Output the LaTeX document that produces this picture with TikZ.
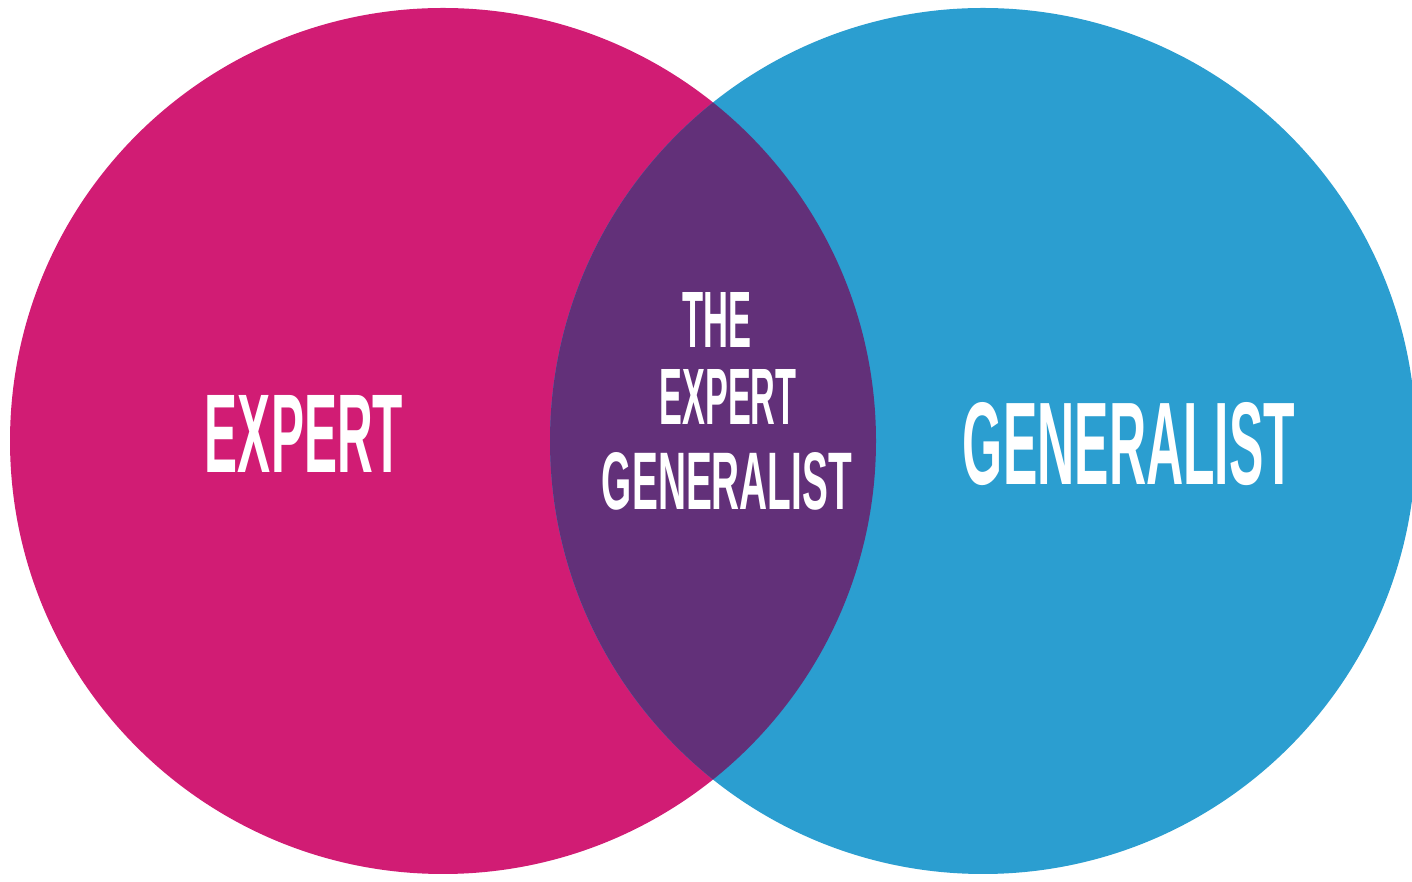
\documentclass[tikz,border=0pt]{standalone}
\usepackage{fontspec}
\setmainfont{Liberation Sans}
\usepackage{graphicx}
\definecolor{expertc}{HTML}{D11C74}
\definecolor{generalc}{HTML}{2B9ED0}
\definecolor{overlapc}{HTML}{623079}
\newcommand{\capword}[3]{\resizebox{#1}{#2}{\bfseries #3}}
\begin{document}
\begin{tikzpicture}[x=1pt,y=1pt,
  word/.style={text=white, inner sep=0pt, anchor=center}]
\useasboundingbox (0,0) rectangle (1412,882);
\fill[white] (0,0) rectangle (1412,882);
\coordinate (cl) at (443,441);
\coordinate (cr) at (983,441);
\fill[expertc] (cl) circle (433);
\fill[generalc] (cr) circle (433);
\begin{scope}
  \clip (cl) circle (433);
  \fill[overlapc] (cr) circle (433);
\end{scope}
\node[word] (expert) at (304,448) {\capword{198pt}{77pt}{EXPERT}};
\node[word] (general) at (1129,438) {\capword{332pt}{82pt}{GENERALIST}};
\node[word] (the) at (717,562) {\capword{69pt}{55pt}{THE}};
\node[word] (mexpert) at (728,485) {\capword{137pt}{55pt}{EXPERT}};
\node[word] (mgeneral) at (727,401) {\capword{250pt}{57pt}{GENERALIST}};
\end{tikzpicture}
\end{document}
